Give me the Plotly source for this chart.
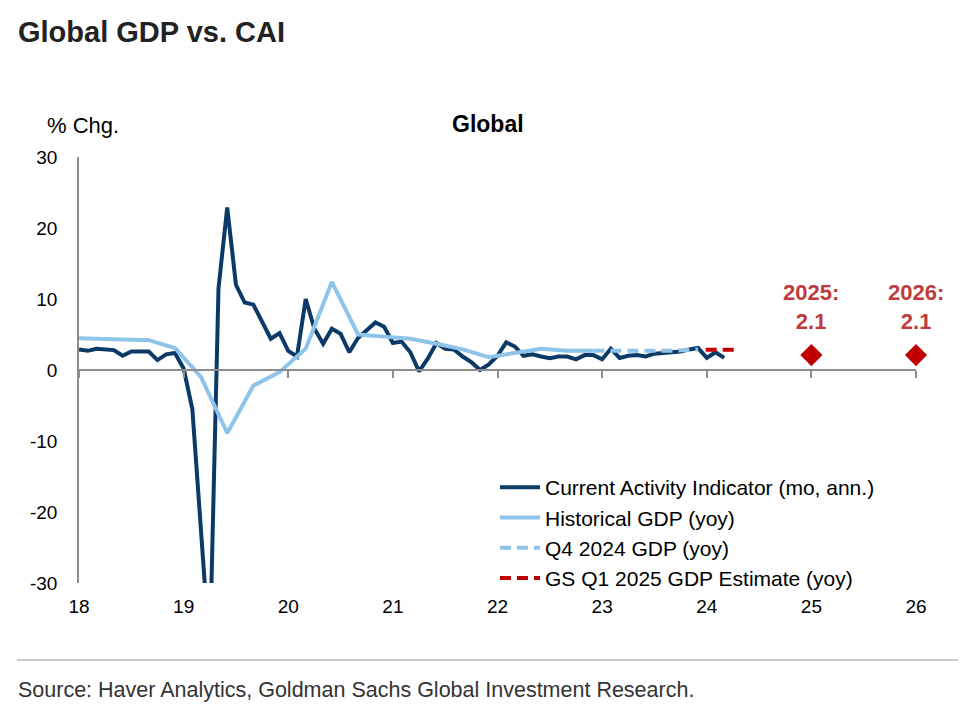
import numpy as np
import plotly.graph_objects as go

# Current Activity Indicator, monthly (% chg, mo, ann.)
cai = [2.9, 2.7, 3.0, 2.9, 2.8, 2.0, 2.6, 2.6, 2.6, 1.4, 2.2, 2.4,
       0.2, -5.5, -22.0, -40.0, 11.5, 22.9, 12.0, 9.5, 9.2, 6.8, 4.4, 5.2,
       2.7, 1.9, 10.0, 5.8, 3.7, 5.8, 5.1, 2.5, 4.5, 5.6, 6.7, 6.1,
       3.8, 4.0, 2.5, -0.2, 1.6, 3.8, 3.0, 2.9, 1.9, 1.1, 0.0, 0.8,
       2.0, 3.9, 3.3, 2.0, 2.2, 1.9, 1.65, 1.9, 1.9, 1.5, 2.1, 2.1,
       1.5, 3.0, 1.7, 2.0, 2.1, 1.9, 2.3, 2.4, 2.5, 2.6, 2.9, 3.1,
       1.7, 2.5, 1.7]
cai_start = 18.0

# Historical GDP, quarterly yoy
gdp_hist = [4.5, 4.4, 4.3, 4.2, 3.1, -1.0, -8.9, -2.2, -0.3, 3.0, 12.4, 5.0,
            4.7, 4.4, 3.7, 2.9, 1.8, 2.4, 3.0, 2.7, 2.7]
gdp_start = 17.917

# Q4 2024 GDP (yoy), dashed segment
q4_x = [22.917, 23.167, 23.417, 23.667, 23.917]
q4_y = [2.7, 2.7, 2.6, 2.7, 2.9]

# GS Q1 2025 estimate (yoy)
est_x = [23.99, 24.27]
est_y = [2.85, 2.85]

# annual forecasts
fc_x = [25, 26]
fc_y = [2.1, 2.1]
fc_lbl = ["2025:", "2026:"]

xticks = [18, 19, 20, 21, 22, 23, 24, 25, 26]
yticks = [-30, -20, -10, 0, 10, 20, 30]

DARK = "#0B3A67"
LIGHT = "#8EC3EA"
RED = "#C00000"
TXTRED = "#BE3B3B"
FONT = "Liberation Sans, Arial, sans-serif"

# the page body has an 8px margin, so the figure starts at (8, 8)
OFF = 8
W, H = 974 - OFF, 715 - OFF
L, R, T, B = 79 - OFF, 58, 157 - OFF, 132


def px(x):
    return (x - OFF - L) / (W - L - R)


def py(y):
    return (H - B - (y - OFF)) / (H - T - B)


cai_x = cai_start + np.arange(len(cai)) / 12
gdp_x = gdp_start + np.arange(len(gdp_hist)) * 0.25

fig = go.Figure()
fig.add_trace(go.Scatter(x=cai_x, y=cai, mode="lines", name="Current Activity Indicator (mo, ann.)",
                         line=dict(color=DARK, width=4), legendgroup="a"))
fig.add_trace(go.Scatter(x=gdp_x, y=gdp_hist, mode="lines", name="Historical GDP (yoy)",
                         line=dict(color=LIGHT, width=4), legendgroup="b"))
fig.add_trace(go.Scatter(x=q4_x, y=q4_y, mode="lines", name="Q4 2024 GDP (yoy)",
                         line=dict(color=LIGHT, width=4, dash="11px,6px"), legendgroup="c"))
fig.add_trace(go.Scatter(x=est_x, y=est_y, mode="lines", name="GS Q1 2025 GDP Estimate (yoy)",
                         line=dict(color=RED, width=4, dash="11px,6px"), legendgroup="d"))
fig.add_trace(go.Scatter(x=fc_x, y=fc_y, mode="markers", showlegend=False,
                         marker=dict(symbol="diamond", size=17, color=RED), cliponaxis=False))
# zero line axis carrying the tick marks
fig.add_trace(go.Scatter(x=[18, 26], y=[0, 0], xaxis="x2", mode="lines",
                         line=dict(color="rgba(0,0,0,0)"), showlegend=False, hoverinfo="skip"))

notes = [dict(text=f"{a}<br>{b}", x=xv, y=yv, xref="x", yref="y", showarrow=False,
              xanchor="center", yanchor="bottom", yshift=19,
              font=dict(size=22, color=TXTRED, weight="bold"))
         for a, b, xv, yv in zip(fc_lbl, fc_y, fc_x, fc_y)]

fig.update_layout(
    width=W, height=H,
    margin=dict(l=L, r=R, t=T, b=B),
    paper_bgcolor="white", plot_bgcolor="white",
    font=dict(family=FONT, size=19, color="black"),
    showlegend=True,
    legend=dict(x=px(495), y=py(467), xanchor="left", yanchor="top",
                font=dict(size=21, color="black"), bgcolor="rgba(0,0,0,0)",
                traceorder="grouped", tracegroupgap=0, itemwidth=40),
    xaxis=dict(range=[18, 26], tickvals=xticks, ticktext=[str(t) for t in xticks],
               showgrid=False, zeroline=False, showline=False, ticks="",
               ticklabelstandoff=10, tickfont=dict(size=19)),
    xaxis2=dict(range=[18, 26], overlaying="x", anchor="free", position=0.5, side="bottom",
                tickvals=xticks, showticklabels=False, showgrid=False, zeroline=False,
                showline=True, linecolor="#8C8C8C", linewidth=1.5,
                ticks="outside", ticklen=7, tickcolor="#8C8C8C", tickwidth=1.5),
    yaxis=dict(range=[-30, 30], tickvals=yticks, ticktext=[str(t) for t in yticks],
               showgrid=False, zeroline=False,
               showline=True, linecolor="#8C8C8C", linewidth=1.5, ticks="",
               ticklabelstandoff=16, tickfont=dict(size=19)),
    annotations=notes + [
        dict(text="Global GDP vs. CAI", x=px(16), y=py(32), xref="paper", yref="paper",
             xanchor="left", yanchor="middle", showarrow=False,
             font=dict(family="Liberation Sans Narrow, Liberation Sans, Arial, sans-serif",
                       size=29, color="#222222", weight="bold")),
        dict(text="% Chg.", x=px(45), y=py(126), xref="paper", yref="paper",
             xanchor="left", yanchor="middle", showarrow=False, font=dict(size=22)),
        dict(text="<b>Global</b>", x=px(488), y=py(124), xref="paper", yref="paper",
             xanchor="center", yanchor="middle", showarrow=False, font=dict(size=23)),
        dict(text="Source: Haver Analytics, Goldman Sachs Global Investment Research.",
             x=px(16), y=py(690), xref="paper", yref="paper",
             xanchor="left", yanchor="middle", showarrow=False,
             font=dict(size=21.5, color="#333333")),
    ],
    shapes=[dict(type="line", xref="paper", yref="paper", x0=px(17), x1=px(958),
                 y0=py(660), y1=py(660), line=dict(color="#9A9A9A", width=1))],
)

fig.write_html("out.html")
